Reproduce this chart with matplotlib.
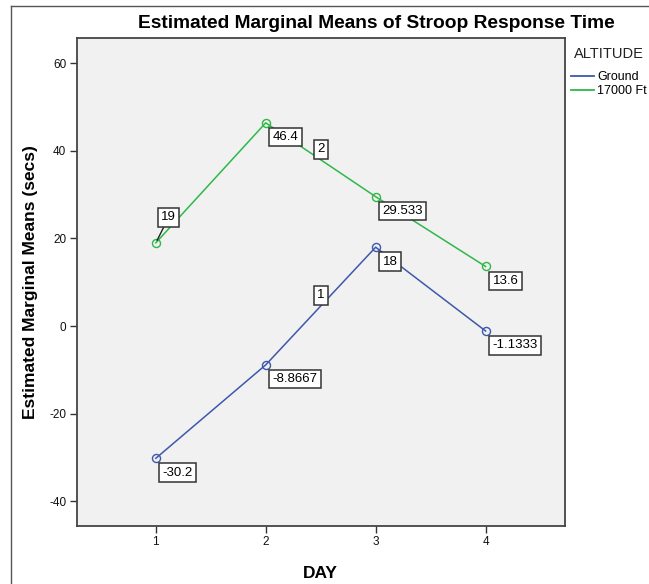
import matplotlib
matplotlib.use("Agg")
import matplotlib.pyplot as plt
from matplotlib.lines import Line2D

plt.rcParams['font.family'] = ['Liberation Sans', 'DejaVu Sans']
plt.rcParams['axes.unicode_minus'] = False

# data
days = [1, 2, 3, 4]
ground = [-30.2, -8.8667, 18, -1.1333]
ft17000 = [19, 46.4, 29.533, 13.6]
series_names = ["Ground", "17000 Ft"]
series_ids = ["1", "2"]
yticks = [-40, -20, 0, 20, 40, 60]

blue = "#3E58AC"
green = "#2EB848"
box = dict(boxstyle="square,pad=0.25", fc="white", ec="#333333", lw=1.1)

fig = plt.figure(figsize=(6.49, 5.84), dpi=100)
ax = fig.add_axes([0.1182, 0.0998, 0.7519, 0.8346])
ax.set_facecolor("#f1f1f1")

for vals, col in [(ground, blue), (ft17000, green)]:
    ax.plot(days, vals, color=col, lw=1.1, marker="o", ms=5.8, mfc="none",
            mec=col, mew=1.0, zorder=2)

# value labels (box top-left near the point)
for vals in (ground, ft17000):
    for d, v in zip(days, vals):
        if d == 1 and vals is ft17000:
            ax.annotate(f"{v:g}", xy=(d, v), xytext=(9.2, 18.3),
                        textcoords="offset points", ha="center", va="center",
                        fontsize=9.5, bbox=box, zorder=4,
                        arrowprops=dict(arrowstyle="-", color="#222222", lw=1.0,
                                        shrinkA=0, shrinkB=2))
            continue
        ax.annotate(f"{v:g}", xy=(d, v), xytext=(5, -6), textcoords="offset points",
                    ha="left", va="top", fontsize=9.5, bbox=box, zorder=4)

# series id labels on the line between day 2 and 3
for vals, sid in [(ground, series_ids[0]), (ft17000, series_ids[1])]:
    mid = (vals[1] + vals[2]) / 2
    ax.annotate(sid, xy=(2.5, mid), xytext=(0, 7.6), textcoords="offset points",
                ha="center", va="center", fontsize=9.5, bbox=box, zorder=4)

ax.set_xlim(0.28, 4.72)
ax.set_ylim(-45.6, 65.7)
ax.set_xticks(days)
ax.set_yticks(yticks)
ax.tick_params(direction="out", length=5, width=1, labelsize=8.5, colors="#333333",
               labelcolor="#111111", pad=2.5)
for s in ax.spines.values():
    s.set_color("#444444")
    s.set_linewidth(1.3)

ax.set_xlabel("DAY", fontsize=12.5, fontweight="bold", labelpad=13)
ax.set_ylabel("Estimated Marginal Means (secs)", fontsize=12.5, fontweight="bold",
              labelpad=8)
fig.text(376 / 649, 1 - 23 / 584, "Estimated Marginal Means of Stroop Response Time",
         ha="center", va="center", fontsize=13.8, fontweight="bold")

# legend
fig.text(574 / 649, 1 - 54 / 584, "ALTITUDE", ha="left", va="center", fontsize=10.5,
         color="#222222")
handles = [Line2D([], [], color=blue, lw=1.3), Line2D([], [], color=green, lw=1.3)]
leg = fig.legend(handles, series_names, loc="upper left",
                 bbox_to_anchor=(571 / 649, 1 - 71 / 584),
                 frameon=False, fontsize=9, handlelength=1.85, handletextpad=0.25,
                 labelspacing=0.2, borderpad=0, borderaxespad=0)

# outer frame (left and top edges)
fig.add_artist(Line2D([11 / 649, 11 / 649], [0, 1 - 6 / 584], color="#555555", lw=1.0))
fig.add_artist(Line2D([11 / 649, 1], [1 - 6 / 584, 1 - 6 / 584], color="#555555", lw=1.0))

fig.savefig("out.png", dpi=100)
